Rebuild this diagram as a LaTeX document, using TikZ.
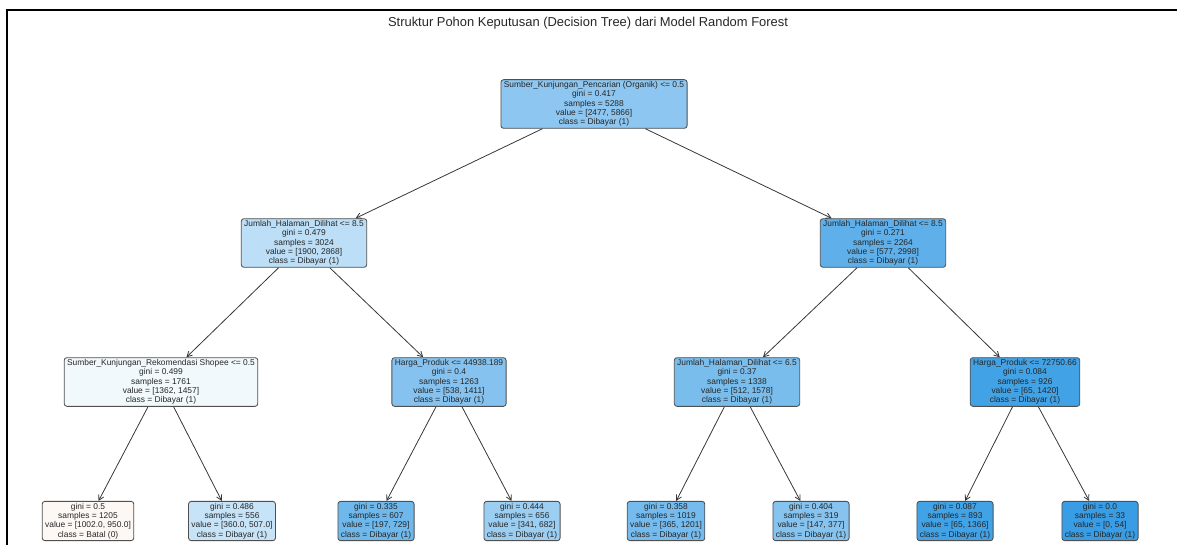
\documentclass[tikz,border=0pt]{standalone}
\usepackage{fontspec}
\setmainfont{Liberation Sans}
\usetikzlibrary{arrows.meta}
\definecolor{croot}{RGB}{141,198,240}
\definecolor{cla}{RGB}{188,222,246}
\definecolor{clb}{RGB}{95,176,234}
\definecolor{cA}{RGB}{242,249,253}
\definecolor{cB}{RGB}{133,194,239}
\definecolor{cC}{RGB}{121,189,237}
\definecolor{cD}{RGB}{66,162,230}
\definecolor{cL1}{RGB}{254,248,245}
\definecolor{cL2}{RGB}{198,227,248}
\definecolor{cL3}{RGB}{111,184,236}
\definecolor{cL4}{RGB}{156,206,242}
\definecolor{cL5}{RGB}{117,187,237}
\definecolor{cL6}{RGB}{134,195,239}
\definecolor{cL7}{RGB}{66,162,230}
\definecolor{cL8}{RGB}{57,157,229}
\definecolor{bordc}{RGB}{80,80,80}
\definecolor{edgec}{RGB}{55,55,55}
\begin{document}
\begin{tikzpicture}[x=0.75pt,y=-0.75pt,
  tn/.style={draw=bordc, line width=0.65pt, rounded corners=2pt, inner xsep=2.2pt, inner ysep=1.3pt, align=center, font=\fontsize{6.3}{7}\selectfont, text=black!85},
  edge/.style={draw=edgec, line width=0.6pt, -{Straight Barb[length=3.8pt,width=4.2pt]}}]
\useasboundingbox (0,0) rectangle (1177,545);
\draw[line width=1.5pt] (6.5,545) -- (6.5,10) -- (1177,10);
\node[font=\fontsize{9.7}{11}\selectfont, text=black!85] (title) at (588,23) {Struktur Pohon Keputusan (Decision Tree) dari Model Random Forest};

\node[tn, fill=croot] (root) at (594,104) {Sumber\_Kunjungan\_Pencarian (Organik) <= 0.5\\gini = 0.417\\samples = 5288\\value = [2477, 5866]\\class = Dibayar (1)};

\node[tn, fill=cla] (n1) at (304,243) {Jumlah\_Halaman\_Dilihat <= 8.5\\gini = 0.479\\samples = 3024\\value = [1900, 2868]\\class = Dibayar (1)};
\node[tn, fill=clb] (n2) at (883,243) {Jumlah\_Halaman\_Dilihat <= 8.5\\gini = 0.271\\samples = 2264\\value = [577, 2998]\\class = Dibayar (1)};

\node[tn, fill=cA] (n3) at (161,382) {Sumber\_Kunjungan\_Rekomendasi Shopee <= 0.5\\gini = 0.499\\samples = 1761\\value = [1362, 1457]\\class = Dibayar (1)};
\node[tn, fill=cB] (n4) at (449,382) {Harga\_Produk <= 44938.189\\gini = 0.4\\samples = 1263\\value = [538, 1411]\\class = Dibayar (1)};
\node[tn, fill=cC] (n5) at (737,382) {Jumlah\_Halaman\_Dilihat <= 6.5\\gini = 0.37\\samples = 1338\\value = [512, 1578]\\class = Dibayar (1)};
\node[tn, fill=cD] (n6) at (1025,382) {Harga\_Produk <= 72750.66\\gini = 0.084\\samples = 926\\value = [65, 1420]\\class = Dibayar (1)};

\node[tn, fill=cL1] (l1) at (88,521) {gini = 0.5\\samples = 1205\\value = [1002.0, 950.0]\\class = Batal (0)};
\node[tn, fill=cL2] (l2) at (232,521) {gini = 0.486\\samples = 556\\value = [360.0, 507.0]\\class = Dibayar (1)};
\node[tn, fill=cL3] (l3) at (376,521) {gini = 0.335\\samples = 607\\value = [197, 729]\\class = Dibayar (1)};
\node[tn, fill=cL4] (l4) at (522,521) {gini = 0.444\\samples = 656\\value = [341, 682]\\class = Dibayar (1)};
\node[tn, fill=cL5] (l5) at (666,521) {gini = 0.358\\samples = 1019\\value = [365, 1201]\\class = Dibayar (1)};
\node[tn, fill=cL6] (l6) at (811,521) {gini = 0.404\\samples = 319\\value = [147, 377]\\class = Dibayar (1)};
\node[tn, fill=cL7] (l7) at (955,521) {gini = 0.087\\samples = 893\\value = [65, 1366]\\class = Dibayar (1)};
\node[tn, fill=cL8] (l8) at (1100,521) {gini = 0.0\\samples = 33\\value = [0, 54]\\class = Dibayar (1)};

\draw[edge] (root) -- (n1);
\draw[edge] (root) -- (n2);
\draw[edge] (n1) -- (n3);
\draw[edge] (n1) -- (n4);
\draw[edge] (n2) -- (n5);
\draw[edge] (n2) -- (n6);
\draw[edge] (n3) -- (l1);
\draw[edge] (n3) -- (l2);
\draw[edge] (n4) -- (l3);
\draw[edge] (n4) -- (l4);
\draw[edge] (n5) -- (l5);
\draw[edge] (n5) -- (l6);
\draw[edge] (n6) -- (l7);
\draw[edge] (n6) -- (l8);
\end{tikzpicture}
\end{document}
